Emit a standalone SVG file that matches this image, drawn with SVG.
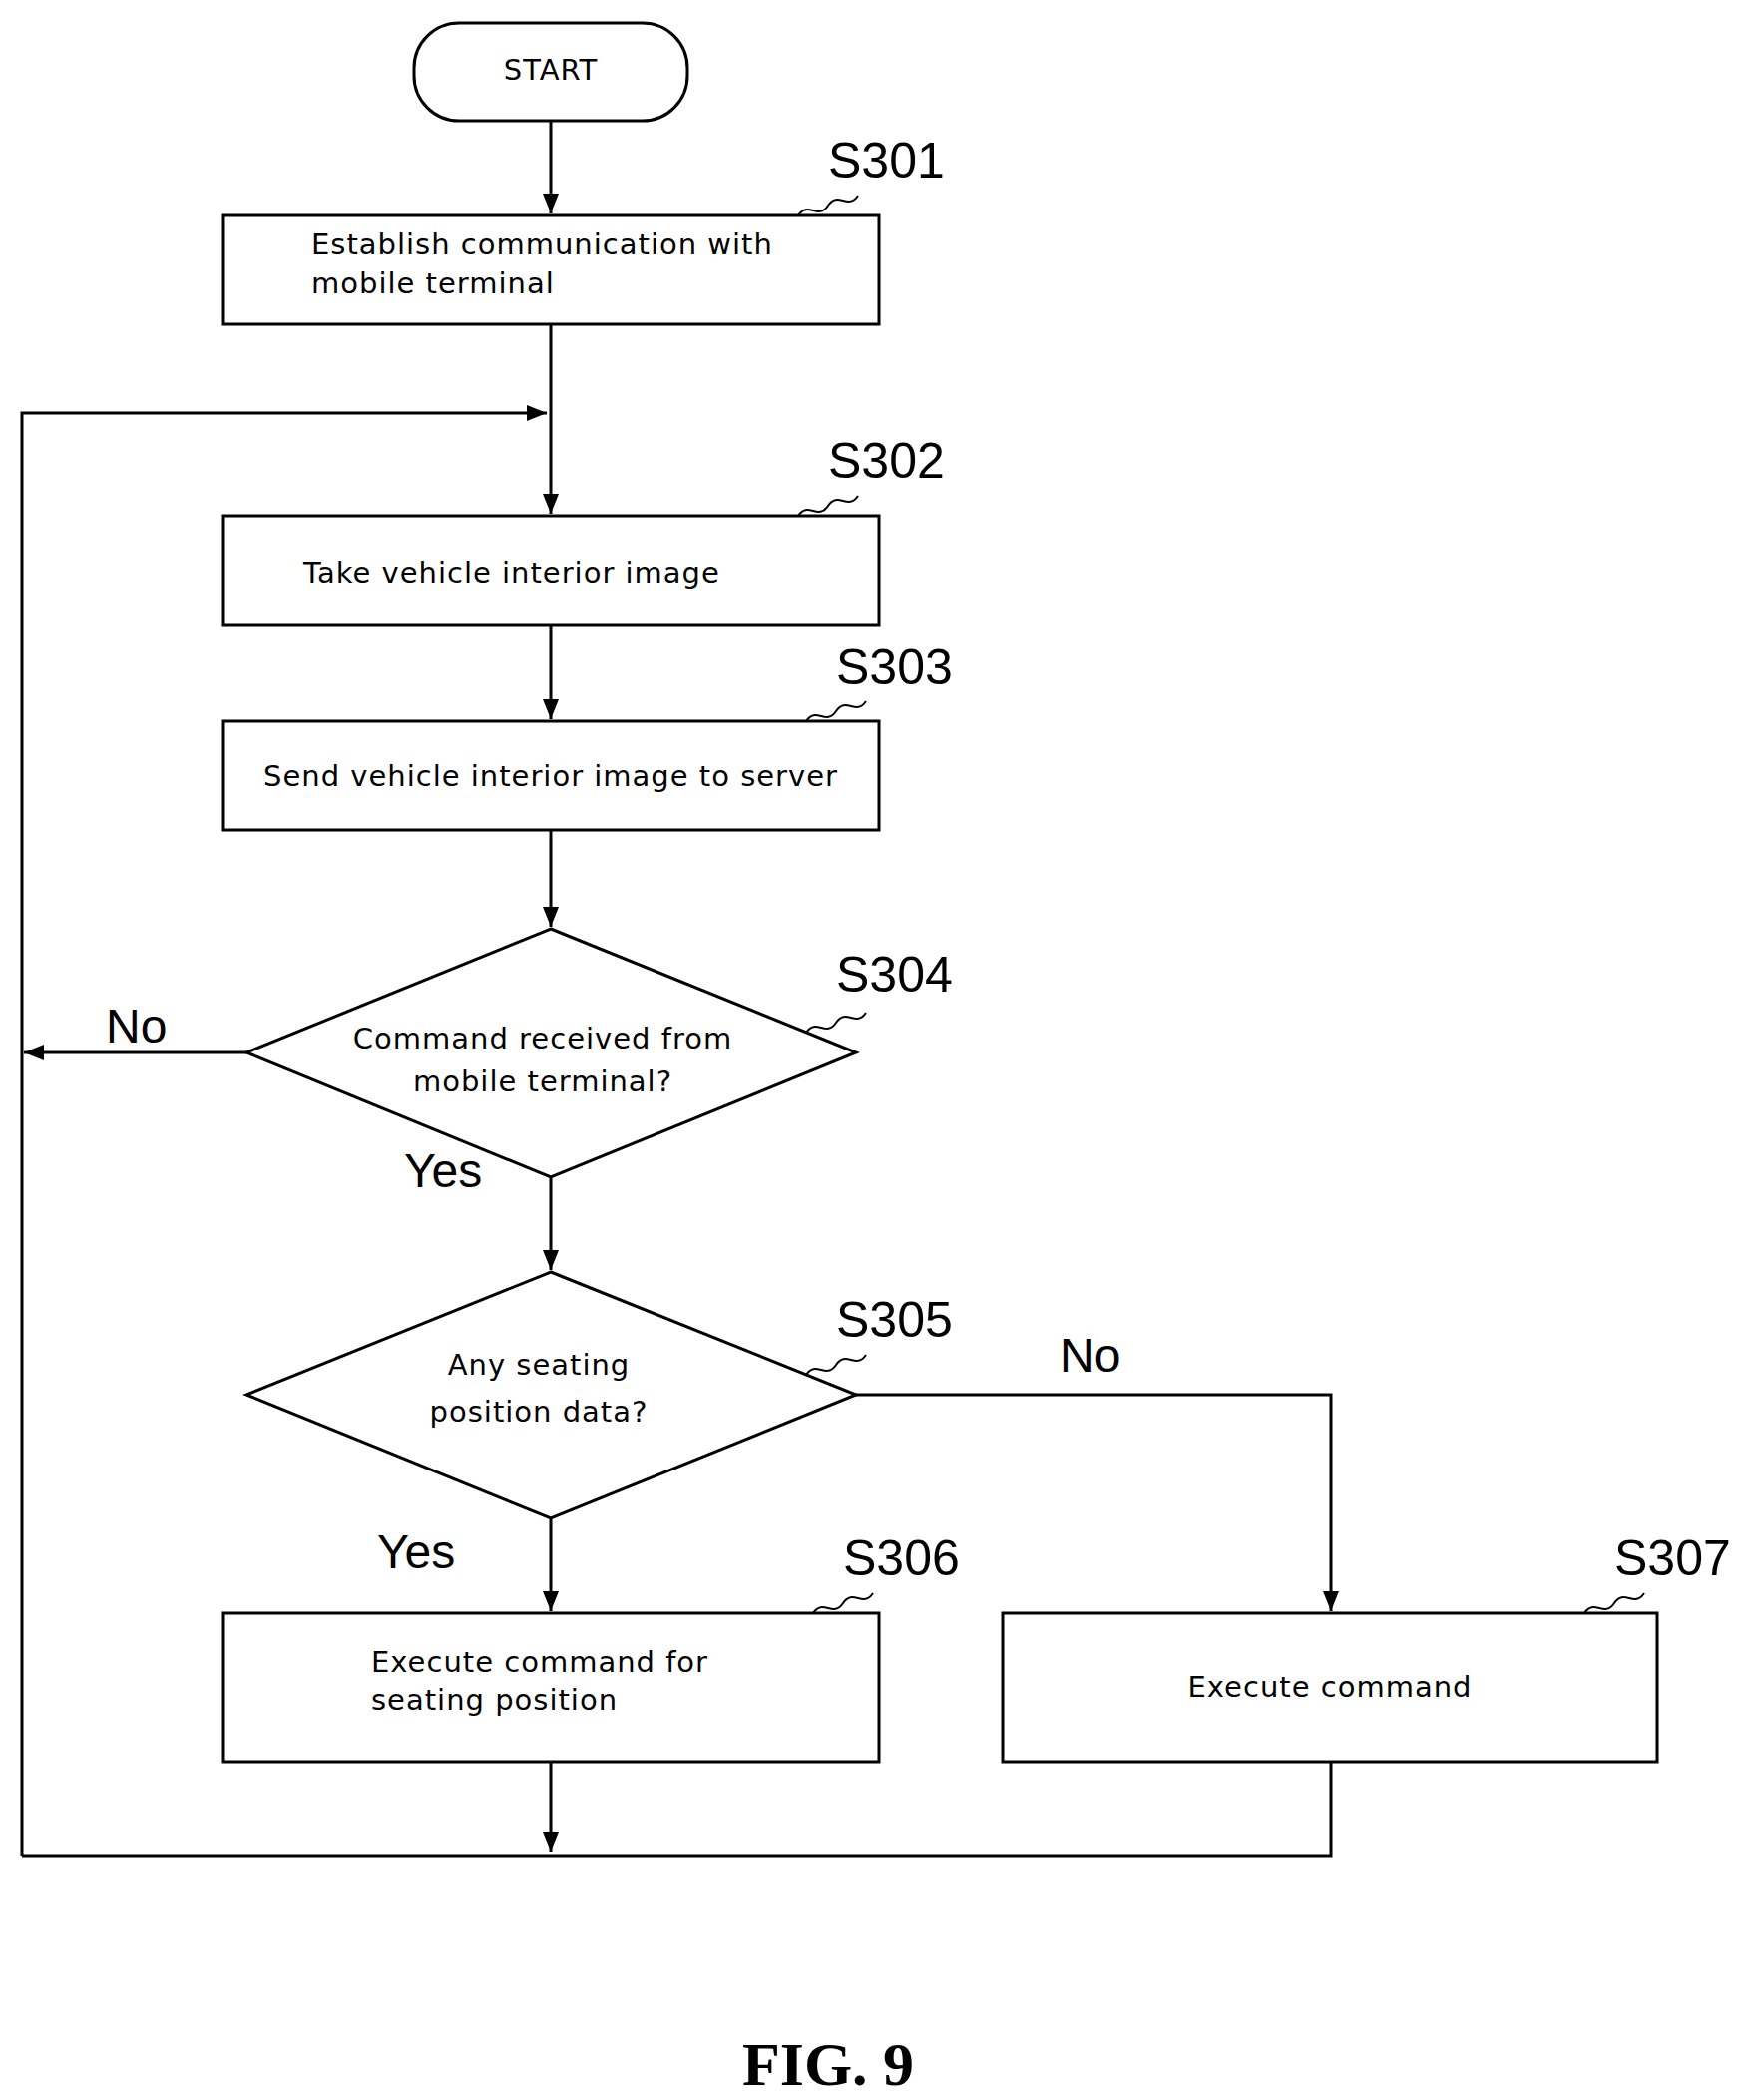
<svg xmlns="http://www.w3.org/2000/svg" width="1754" height="2105" viewBox="0 0 1754 2105">
<style>
.s{fill:none;stroke:#000;stroke-width:3}
.t{font-family:"DejaVu Sans",sans-serif;font-size:29px;letter-spacing:1px}
.l{font-family:"Liberation Sans",sans-serif;font-size:50px}
.y{font-family:"Liberation Sans",sans-serif;font-size:48px}
.q{fill:none;stroke:#000;stroke-width:2}
</style>
<defs><marker id="a" viewBox="0 0 10 10" refX="10" refY="5" markerWidth="8" markerHeight="8" markerUnits="userSpaceOnUse" orient="auto"><path d="M0,0L10,5L0,10z"/></marker>
<marker id="b" viewBox="0 0 10 10" refX="10" refY="5" markerWidth="20" markerHeight="20" markerUnits="userSpaceOnUse" orient="auto"><path d="M0,1L10,5L0,9z"/></marker></defs>
<rect width="1754" height="2105" fill="#fff"/>
<g id="start"><rect class="s" x="415" y="23" width="274" height="98" rx="45"/><text class="t" x="552" y="80" text-anchor="middle">START</text></g>
<g id="s301"><rect class="s" x="224" y="216" width="657" height="109"/><text class="t" x="312" y="255">Establish communication with</text><text class="t" x="312" y="294">mobile terminal</text><text class="l" x="830" y="178">S301</text><path class="q" d="M800,216c10,-15 20,5 30,-10s20,5 30,-10"/></g>
<g id="s302"><rect class="s" x="224" y="517" width="657" height="109"/><text class="t" x="304" y="584">Take vehicle interior image</text><text class="l" x="830" y="479">S302</text><path class="q" d="M800,517c10,-15 20,5 30,-10s20,5 30,-10"/></g>
<g id="s303"><rect class="s" x="224" y="723" width="657" height="109"/><text class="t" x="552" y="788" text-anchor="middle">Send vehicle interior image to server</text><text class="l" x="838" y="686">S303</text><path class="q" d="M808,723c10,-15 20,5 30,-10s20,5 30,-10"/></g>
<g id="s304"><path class="s" d="M552,931L858,1055L552,1180L247,1055Z"/><text class="t" x="544" y="1051" text-anchor="middle">Command received from</text><text class="t" x="544" y="1094" text-anchor="middle">mobile terminal?</text><text class="l" x="838" y="994">S304</text><path class="q" d="M808,1035c10,-15 20,5 30,-10s20,5 30,-10"/></g>
<g id="s305"><path class="s" d="M552,1275L858,1398L552,1522L247,1398Z"/><text class="t" x="540" y="1378" text-anchor="middle">Any seating</text><text class="t" x="540" y="1425" text-anchor="middle">position data?</text><text class="l" x="838" y="1340">S305</text><path class="q" d="M808,1378c10,-15 20,5 30,-10s20,5 30,-10"/></g>
<g id="s306"><rect class="s" x="224" y="1617" width="657" height="149"/><text class="t" x="372" y="1676">Execute command for</text><text class="t" x="372" y="1714">seating position</text><text class="l" x="845" y="1579">S306</text><path class="q" d="M815,1617c10,-15 20,5 30,-10s20,5 30,-10"/></g>
<g id="s307"><rect class="s" x="1005" y="1617" width="656" height="149"/><text class="t" x="1333" y="1701" text-anchor="middle">Execute command</text><text class="l" x="1618" y="1579">S307</text><path class="q" d="M1588,1617c10,-15 20,5 30,-10s20,5 30,-10"/></g>
<g id="connectors" class="s">
<path d="M552,121V214" marker-end="url(#b)"/>
<path d="M552,325V515" marker-end="url(#b)"/>
<path d="M22,1860V414H548" marker-end="url(#b)"/>
<path d="M552,626V721" marker-end="url(#b)"/>
<path d="M552,832V929" marker-end="url(#b)"/>
<path d="M247,1055H24" marker-end="url(#b)"/>
<path d="M552,1180V1273" marker-end="url(#b)"/>
<path d="M552,1522V1615" marker-end="url(#b)"/>
<path d="M858,1398H1334V1615" marker-end="url(#b)"/>
<path d="M552,1766V1856" marker-end="url(#b)"/>
<path d="M1334,1766V1860H22"/>
</g>
<text class="y" x="106" y="1045">No</text>
<text class="y" x="405" y="1190">Yes</text>
<text class="y" x="1062" y="1375">No</text>
<text class="y" x="378" y="1572">Yes</text>
<text x="830" y="2090" text-anchor="middle" font-family="Liberation Serif,serif" font-weight="bold" font-size="62">FIG. 9</text>
</svg>
